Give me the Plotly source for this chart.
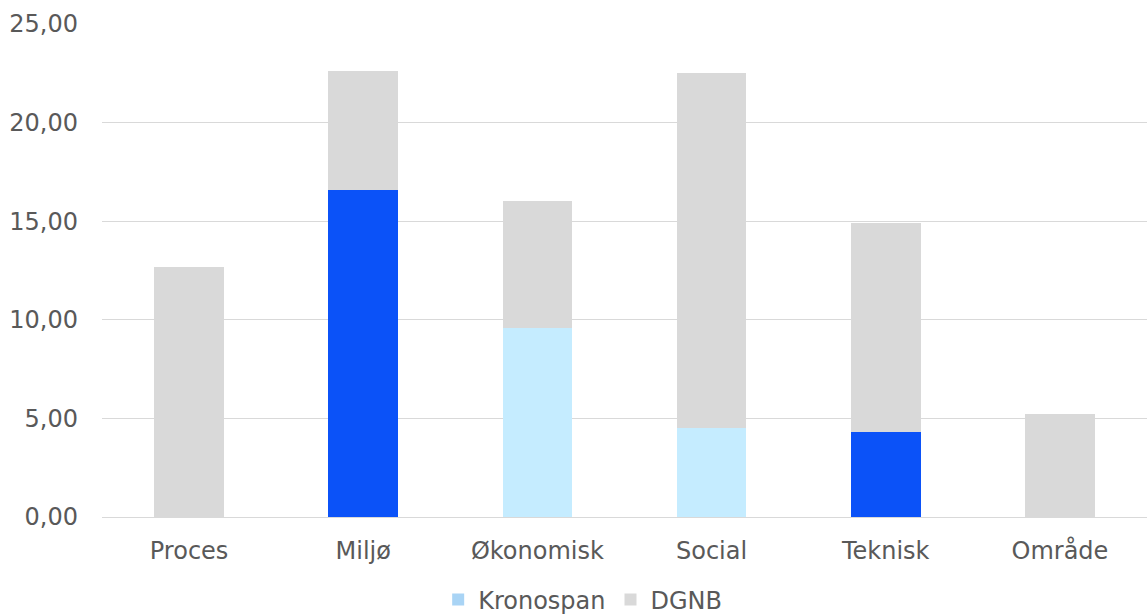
import plotly.graph_objects as go

categories = ["Proces", "Miljø", "Økonomisk", "Social", "Teknisk", "Område"]
kronospan = [0, 16.6, 9.6, 4.5, 4.3, 0]
dgnb = [12.7, 6.0, 6.4, 18.0, 10.6, 5.2]
kronospan_colors = ["#a9d4f5", "#0b52f8", "#c5ecff", "#c5ecff", "#0b52f8", "#a9d4f5"]
dgnb_color = "#d9d9d9"
tick_vals = [0, 5, 10, 15, 20, 25]

FONT = "Verdana, DejaVu Sans, sans-serif"
TXT = "#595959"
FS = 24

fig = go.Figure()
fig.add_trace(go.Bar(x=categories, y=kronospan, name="Kronospan",
                     marker=dict(color=kronospan_colors, line=dict(width=0))))
fig.add_trace(go.Bar(x=categories, y=dgnb, name="DGNB",
                     marker=dict(color=dgnb_color, line=dict(width=0))))

fig.update_layout(
    barmode="stack",
    bargap=0.6,
    width=1147, height=616,
    margin=dict(l=102, r=0, t=24, b=99, autoexpand=False),
    paper_bgcolor="white", plot_bgcolor="white",
    separators=", ",
    font=dict(family=FONT, size=FS, color=TXT),
    showlegend=True,
    legend=dict(orientation="h", x=0.508, xanchor="center", xref="container",
                y=(616 - 600) / 616, yanchor="middle", yref="container",
                font=dict(size=FS, color=TXT), traceorder="normal",
                itemwidth=30, tracegroupgap=0),
    xaxis=dict(showgrid=False, showline=True, linecolor="#d9d9d9", linewidth=1,
               ticks="", ticklabelstandoff=12, automargin=False,
               tickfont=dict(size=FS, color=TXT)),
    yaxis=dict(range=[0, 25], tickvals=tick_vals, tickformat=".2f",
               showgrid=True, gridcolor="#d9d9d9", gridwidth=1,
               zeroline=False, showline=False, ticks="", automargin=False,
               ticklabelstandoff=23, tickfont=dict(size=FS, color=TXT)),
)

fig.write_html("out.html",
               config={"displayModeBar": False},
               post_script="document.body.style.margin='0';document.body.style.overflow='hidden';")
